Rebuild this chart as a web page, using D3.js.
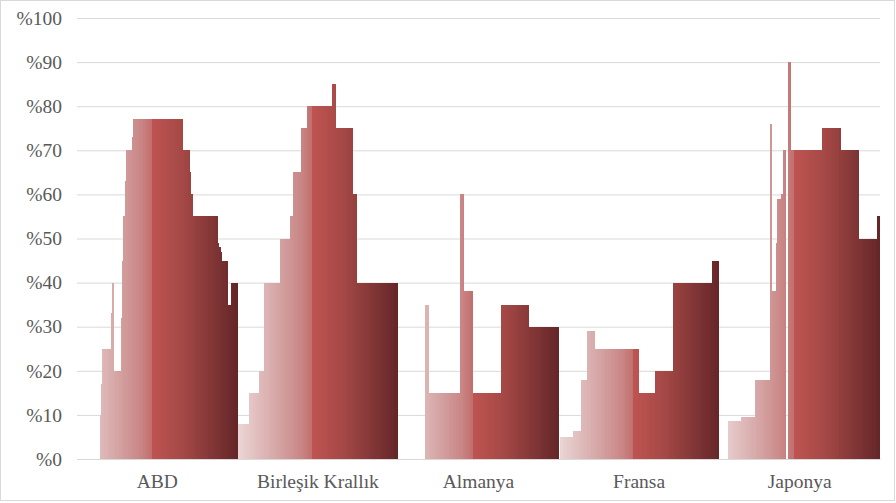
<!DOCTYPE html>
<html>
<head>
<meta charset="utf-8">
<script src="https://cdn.jsdelivr.net/npm/d3@7"></script>
<style>
body { margin: 0; background: #fff; }
svg { display: block; font-family: "Liberation Serif", "Times New Roman", serif; }
</style>
</head>
<body>
<svg id="chart" width="896" height="503"></svg>
<script>
const countries = ["ABD", "Birleşik Krallık", "Almanya", "Fransa", "Japonya"];
const years = d3.range(1900, 2014);
const yTicks = [0, 10, 20, 30, 40, 50, 60, 70, 80, 90, 100];

// rate (%), held from the given year until the next entry
const abdSteps = [[1900, 0], [1916, 10], [1917, 17], [1918, 25], [1924, 33], [1925, 40], [1926, 20],
    [1931, 32], [1932, 45], [1933, 55], [1934, 63], [1935, 70], [1939, 73], [1940, 77], [1975, 70],
    [1980, 65], [1981, 60], [1982, 55], [2000, 49], [2001, 48], [2002, 47], [2003, 45], [2007, 35], [2009, 40]];
const ukSteps = [[1900, 8], [1908, 15], [1915, 20], [1919, 40], [1930, 50], [1937, 55], [1939, 65],
    [1945, 75], [1949, 80], [1967, 85], [1970, 75], [1982, 60], [1985, 40]];
const deSteps = [[1900, 0], [1919, 35], [1922, 15], [1944, 60], [1947, 38], [1953, 15], [1973, 35], [1993, 30]];
const frSteps = [[1900, 0], [1901, 5], [1910, 6.4], [1916, 18], [1920, 29], [1926, 25], [1957, 15],
    [1968, 20], [1981, 40], [2009, 45]];
const jpSteps = [[1900, 0], [1906, 8.6], [1915, 9.5], [1925, 18], [1936, 76], [1937, 38], [1940, 49],
    [1941, 59], [1944, 60], [1945, 70], [1947, 0], [1949, 90], [1951, 70], [1973, 75], [1986, 70],
    [1999, 50], [2012, 55]];
const stepsByCountry = [abdSteps, ukSteps, deSteps, frSteps, jpSteps];

function expand(steps) {
    return years.map(yr => {
        let v = 0;
        steps.forEach(([y0, r]) => { if (yr >= y0) v = r; });
        return v;
    });
}

const data = countries.flatMap((c, i) =>
    expand(stepsByCountry[i]).map((v, k) => ({ country: c, year: years[k], value: v })));

const width = 896, height = 503;
const plotLeft = 77, plotRight = 880, plotTop = 18, plotBottom = 459;

const svg = d3.select("#chart");

svg.append("rect")
    .attr("x", 0.5).attr("y", 0.5)
    .attr("width", width - 2).attr("height", height - 3)
    .attr("fill", "#fff")
    .attr("stroke", "#d9d9d9");

const x0 = d3.scaleBand().domain(countries).range([plotLeft, plotRight]).padding(0);
const x1 = d3.scaleBand().domain(years).range([0, x0.bandwidth()]).padding(0);
const y = d3.scaleLinear().domain([0, 100]).range([plotBottom, plotTop]);

const color = d3.scaleLinear()
    .domain([1900, 1925, 1945, 1952, 1953, 1975, 2013])
    .range(["#ebd5d5", "#d8aaaa", "#c88584", "#c2706f", "#be5451", "#a44846", "#652628"])
    .interpolate(d3.interpolateRgb);

// gridlines + y labels
const yAxis = svg.append("g")
    .attr("transform", `translate(${plotLeft},0)`)
    .call(d3.axisLeft(y).tickValues(yTicks).tickSize(-(plotRight - plotLeft)).tickPadding(15)
        .tickFormat(d => "%" + d));
yAxis.select(".domain").remove();
yAxis.selectAll(".tick line").attr("stroke", "#d9d9d9");
yAxis.selectAll(".tick text")
    .attr("fill", "#595959")
    .style("font-size", "19.5px")
    .style("font-family", "'Liberation Serif', 'Times New Roman', serif");

// bars
svg.append("g")
    .selectAll("rect")
    .data(data.filter(d => d.value > 0))
    .join("rect")
    .attr("x", d => x0(d.country) + x1(d.year))
    .attr("y", d => y(d.value))
    .attr("width", x1.bandwidth())
    .attr("height", d => y(0) - y(d.value))
    .attr("fill", d => color(d.year))
    .attr("shape-rendering", "crispEdges");

// x axis
const xAxis = svg.append("g")
    .attr("transform", `translate(0,${plotBottom})`)
    .call(d3.axisBottom(x0).tickSize(0).tickPadding(15));
xAxis.select(".domain").attr("stroke", "#d9d9d9");
xAxis.selectAll(".tick text")
    .attr("fill", "#595959")
    .style("font-size", "19.5px")
    .style("font-family", "'Liberation Serif', 'Times New Roman', serif");
</script>
</body>
</html>
